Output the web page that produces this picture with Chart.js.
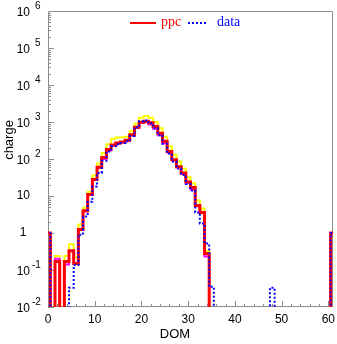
<!DOCTYPE html>
<html>
<head>
<meta charset="utf-8">
<script src="https://cdn.jsdelivr.net/npm/chart.js@4.4.1/dist/chart.umd.min.js"></script>
<style>
  html, body { margin: 0; padding: 0; background: #fff; }
  #wrap { width: 337px; height: 344px; }
</style>
</head>
<body>
<div id="wrap"><canvas id="chart" width="337" height="344"></canvas></div>
<script>
// DOM number of each bin; bin i spans i-0.5 .. i+0.5
const DOMS = [0,1,2,3,4,5,6,7,8,9,10,11,12,13,14,15,16,17,18,19,20,
  21,22,23,24,25,26,27,28,29,30,31,32,33,34,35,36,37,38,39,40,
  41,42,43,44,45,46,47,48,49,50,51,52,53,54,55,56,57,58,59,60,61];

// posterior predictive: median, upper and lower band
const PPC = [1,0,0.17,0,0.17,0.33,0.15,1.25,4,11,28,60,110,180,240,270,290,320,450,720,980,
  1050,950,750,500,300,160,95,62,42,24,17,5.5,3.6,0.28,0,0,0,0,0,0,
  0,0,0,0,0,0,0,0,0,0,0,0,0,0,0,0,0,0,0,0,1];
const PPC_HI = [1,0,0.24,0,0.24,0.5,0.22,1.7,4.8,13,36,75,145,250,350,380,390,400,560,900,1300,
  1450,1300,1000,680,400,220,130,85,55,32,22,7.5,4.6,0.33,0,0,0,0,0,0,
  0,0,0,0,0,0,0,0,0,0,0,0,0,0,0,0,0,0,0,0,1];
const PPC_LO = [1,0,0.2,0,0.14,0.32,0.15,1.2,3.9,10.6,27,58,100,170,232,262,282,310,437,700,950,
  1010,860,660,440,265,150,92,60,40,23,15,5.3,3.5,0.23,0,0,0,0,0,0,
  0,0,0,0,0,0,0,0,0,0,0,0,0,0,0,0,0,0,0,0,1];
// observed charge
const DATA = [1,0,0,0,0,0.033,0.136,0.9,2.8,7,18,42,90,160,220,250,270,300,420,720,1050,
  1100,920,680,440,260,140,85,55,37,21,14,3.6,1.8,0.52,0.035,0,0,0,0,0,
  0,0,0,0,0,0,0,0.033,0,0,0,0,0,0,0,0,0,0,0,0,1];

const X_TICKS = [0, 10, 20, 30, 40, 50, 60];
const Y_EXPONENTS = [-2, -1, 0, 1, 2, 3, 4, 5, 6];

const FLOOR = 1e-4; // empty bins drop below the axis

// turn bin contents into a step outline
function steps(vals) {
  const pts = [{ x: DOMS[0] - 0.5, y: FLOOR }];
  vals.forEach((v, i) => {
    const y = v > 0 ? v : FLOOR;
    pts.push({ x: DOMS[i] - 0.5, y }, { x: DOMS[i] + 0.5, y });
  });
  pts.push({ x: DOMS[DOMS.length - 1] + 0.5, y: FLOOR });
  return pts;
}

function stepSet(vals, color, width, dash) {
  return {
    data: steps(vals),
    borderColor: color,
    borderWidth: width,
    borderDash: dash || [],
    borderJoinStyle: 'miter',
    pointRadius: 0,
    tension: 0,
    fill: false,
    clip: 0
  };
}

const AXIS = '#8c8c8c';
const SANS = '"Liberation Sans", Arial, sans-serif';
const SERIF = '"Liberation Serif", "Times New Roman", serif';

// frame with inward ticks, drawn under the histograms
const frame = {
  id: 'frame',
  beforeDatasetsDraw(chart) {
    const { ctx, chartArea: a, scales: { x, y } } = chart;
    ctx.save();
    ctx.strokeStyle = AXIS;
    ctx.lineWidth = 1;
    ctx.beginPath();
    ctx.rect(a.left + 0.5, a.top + 0.5, a.right - a.left - 1, a.bottom - a.top - 1);
    // x ticks every 2, long ones every 10
    for (let v = 0; v <= 61; v += 2) {
      const px = Math.round(x.getPixelForValue(v)) + 0.5;
      const len = v % 10 === 0 ? 6 : 3;
      ctx.moveTo(px, a.bottom);
      ctx.lineTo(px, a.bottom - len);
    }
    // y ticks per decade plus 2..9
    for (let e = -2; e < 6; e++) {
      for (let m = 1; m <= 9; m++) {
        const py = Math.round(y.getPixelForValue(m * Math.pow(10, e))) + 0.5;
        const len = m === 1 ? 6 : 3;
        ctx.moveTo(a.left, py);
        ctx.lineTo(a.left + len, py);
      }
    }
    ctx.stroke();
    ctx.restore();
  },
  afterDraw(chart) {
    const { ctx, chartArea: a, scales: { x, y } } = chart;
    ctx.save();
    ctx.fillStyle = '#000';
    // x tick labels
    ctx.font = '12px ' + SANS;
    ctx.textAlign = 'center';
    ctx.textBaseline = 'middle';
    X_TICKS.forEach(v => ctx.fillText(String(v), x.getPixelForValue(v), a.bottom + 13));
    // y tick labels: 1, 10, else 10 with a raised exponent
    Y_EXPONENTS.forEach(e => {
      const py = y.getPixelForValue(Math.pow(10, e));
      if (e === 0) {
        ctx.font = '12px ' + SANS;
        ctx.textAlign = 'center';
        ctx.fillText('1', 23, py);
      } else if (e === 1) {
        ctx.font = '12px ' + SANS;
        ctx.textAlign = 'right';
        ctx.fillText('10', 30, py);
      } else {
        ctx.font = '12px ' + SANS;
        ctx.textAlign = 'right';
        ctx.fillText('10', 30, py + 2);
        ctx.font = '10px ' + SANS;
        ctx.textAlign = 'left';
        ctx.fillText(String(e), e < 0 ? 32 : 35, py - 5);
      }
    });
    // axis titles
    ctx.font = '13px ' + SANS;
    ctx.textAlign = 'center';
    ctx.fillText('DOM', 175, 334);
    ctx.translate(9, 140);
    ctx.rotate(-Math.PI / 2);
    ctx.fillText('charge', 0, 0);
    ctx.restore();

    // legend
    ctx.save();
    ctx.lineWidth = 2;
    ctx.strokeStyle = '#ff0000';
    ctx.beginPath();
    ctx.moveTo(130, 23); ctx.lineTo(156, 23);
    ctx.stroke();
    ctx.strokeStyle = '#0000ff';
    ctx.setLineDash([2, 2]);
    ctx.beginPath();
    ctx.moveTo(188, 23); ctx.lineTo(207, 23);
    ctx.stroke();
    ctx.font = '14px ' + SERIF;
    ctx.textBaseline = 'middle';
    ctx.textAlign = 'left';
    ctx.fillStyle = '#ff0000';
    ctx.fillText('ppc', 161, 22);
    ctx.fillStyle = '#0000ff';
    ctx.fillText('data', 217, 22);
    ctx.restore();
  }
};

// Chart.js paints the first dataset last, so the data line goes first
new Chart(document.getElementById('chart'), {
  type: 'line',
  data: {
    datasets: [
      stepSet(DATA, '#0000ff', 2, [2, 2]),
      stepSet(PPC, '#ff0000', 3),
      stepSet(PPC_LO, '#ff00ff', 2),
      stepSet(PPC_HI, '#ffff00', 2)
    ]
  },
  options: {
    responsive: false,
    animation: false,
    events: [],
    layout: { padding: { left: 48, right: 4, top: 11, bottom: 37 } },
    plugins: { legend: { display: false }, tooltip: { enabled: false } },
    scales: {
      x: { type: 'linear', min: 0, max: 61, display: false },
      y: { type: 'logarithmic', min: 0.01, max: 1e6, display: false }
    }
  },
  plugins: [frame]
});
</script>
</body>
</html>
